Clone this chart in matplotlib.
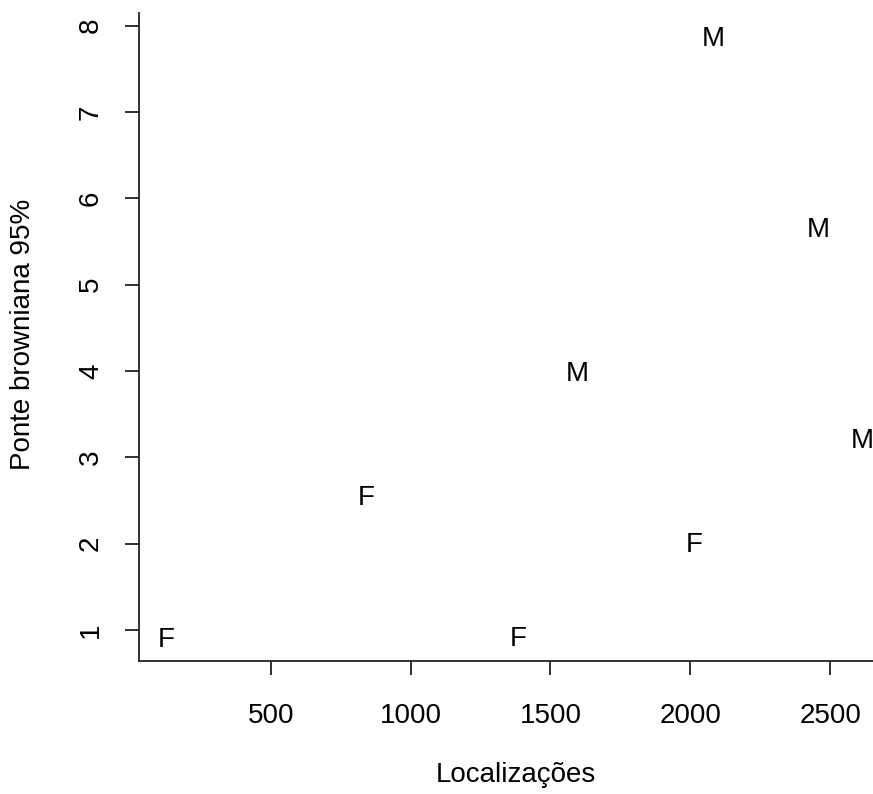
import matplotlib
matplotlib.use("Agg")
import matplotlib.pyplot as plt
import matplotlib.transforms as mtransforms

# data (sex label at each point)
localizacoes = [126, 840, 1385, 2015, 2081, 2458, 2614, 1596]
ponte_95 = [0.91, 2.56, 0.93, 2.01, 7.87, 5.66, 3.22, 4.00]
sexo = ["F", "F", "F", "F", "M", "M", "M", "M"]

x_ticks = [500, 1000, 1500, 2000, 2500]
y_ticks = [1, 2, 3, 4, 5, 6, 7, 8]

plt.rcParams['font.family'] = ['Liberation Sans', 'DejaVu Sans']
fs = 20

fig = plt.figure(figsize=(8.73, 7.94), dpi=100)
ax = fig.add_axes([139.3 / 873, 133 / 794, 1 - 139.3 / 873, (661 - 13.3) / 794])

# R centres the glyphs, matplotlib centres the full line box -> nudge down a bit
shift = ax.transData + mtransforms.ScaledTranslation(0, -2.5 / 100, fig.dpi_scale_trans)
for x, y, s in zip(localizacoes, ponte_95, sexo):
    ax.text(x, y, s, ha='center', va='center', fontsize=fs, color='black',
            transform=shift)

ax.set_xlim(30.4, 2652.6)
ax.set_ylim(0.641, 8.144)

# R-style L box
ax.spines['top'].set_visible(False)
ax.spines['right'].set_visible(False)
for sp in ['left', 'bottom']:
    ax.spines[sp].set_linewidth(1.3)
    ax.spines[sp].set_color('#222222')

ax.set_xticks(x_ticks)
ax.set_yticks(y_ticks)
ax.tick_params(axis='both', length=10, width=1.3, color='#222222', labelsize=fs)
ax.tick_params(axis='x', pad=20)
ax.tick_params(axis='y', pad=15.5)
for lab in ax.get_yticklabels():
    lab.set_rotation(90)
    lab.set_va('center')

fig.text(516 / 873, 1 - 775 / 794, 'Localizações', ha='center', va='center', fontsize=fs)
fig.text(23 / 873, 1 - 334 / 794, 'Ponte browniana 95%', ha='center', va='center',
         rotation=90, fontsize=fs)

plt.savefig('out.png', dpi=100)
plt.close()
